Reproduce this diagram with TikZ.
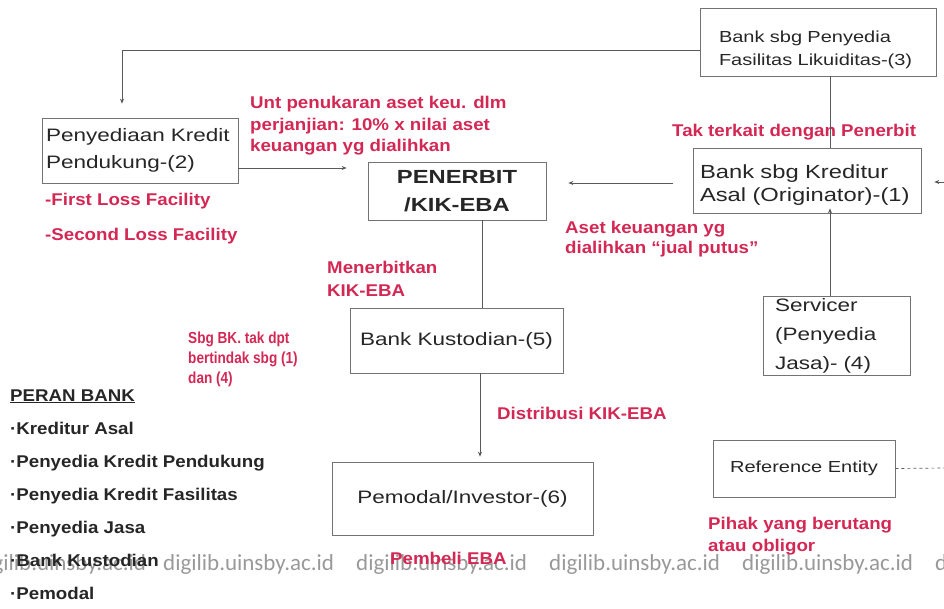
\documentclass[tikz,border=0pt]{standalone}
\usepackage{fontspec}
\setmainfont{Liberation Sans}
\newfontfamily\boxfont{Liberation Sans}[FakeStretch=1.25]
\newfontfamily\lblfont{Liberation Sans}[FakeStretch=1.1]
\newfontfamily\narrowfont{Liberation Sans}[FakeStretch=0.85]
\newfontfamily\wmfont{Carlito}
\usetikzlibrary{arrows.meta}
\definecolor{lblred}{RGB}{212,40,84}
\tikzset{
  entity/.style={draw=black!55, line width=0.7pt, inner sep=0pt, text=black!85},
  note/.style={text=lblred, align=left, inner sep=0pt, anchor=base west,
    font=\lblfont\bfseries\fontsize{17}{21.5}\selectfont},
  link/.style={draw=black!65, line width=0.7pt},
  tip/.style={-{Stealth[length=5pt,width=4pt]}},
  watermark/.style={text=black!40, inner sep=0pt, anchor=base west,
    font=\wmfont\fontsize{23}{23}\selectfont},
}
\begin{document}
\begin{tikzpicture}[x=1pt, y=-1pt]
        \useasboundingbox (0,0) rectangle (944,609);
        \clip (0,0) rectangle (944,609);

        % watermark row
        \foreach \wx [count=\wi] in {-25,163,356,549,742,935}
          \node[watermark] (wm\wi) at (\wx,570) {digilib.uinsby.ac.id};

        % boxes
        \node[entity, minimum width=236pt, minimum height=68pt, text width=198pt, align=left,
          font=\boxfont\fontsize{16}{23}\selectfont] (liq) at (818,42)
          {\rule{0pt}{28pt}Bank sbg Penyedia\\Fasilitas Likuiditas-(3)};
        \node[entity, minimum width=228pt, minimum height=65pt, text width=214pt, align=left,
          font=\boxfont\fontsize{19}{23}\selectfont] (kred) at (807,180.5)
          {\rule{0pt}{22pt}Bank sbg Kreditur\\Asal (Originator)-(1)};
        \node[entity, minimum width=196pt, minimum height=65pt, text width=188pt, align=left,
          font=\boxfont\fontsize{18}{27}\selectfont] (pend) at (140,150.5)
          {Penyediaan Kredit\\Pendukung-(2)};
        \node[entity, minimum width=178pt, minimum height=58pt, align=center,
          font=\boxfont\bfseries\fontsize{19}{28}\selectfont] (pen) at (457,191)
          {PENERBIT\\/KIK-EBA};
        \node[entity, minimum width=213pt, minimum height=65pt,
          font=\boxfont\fontsize{18}{22}\selectfont] (kust) at (456.5,340.5)
          {Bank Kustodian-(5)};
        \node[entity, minimum width=147pt, minimum height=79pt, text width=123pt, align=left,
          font=\boxfont\fontsize{18}{29}\selectfont] (serv) at (836.5,335.5)
          {Servicer\\(Penyedia\\Jasa)- (4)};
        \node[entity, minimum width=261pt, minimum height=73pt,
          font=\boxfont\fontsize{18}{22}\selectfont] (pemo) at (462.5,498.5)
          {Pemodal/Investor-(6)};
        \node[entity, minimum width=182pt, minimum height=57pt,
          font=\boxfont\fontsize{16}{20}\selectfont] (ref) at (804,468.5)
          {Reference Entity};

        % red notes (base = last line)
        \node[note] (unt) at (250,152) {Unt penukaran aset keu. dlm\\perjanjian: 10\% x nilai aset\\keuangan yg dialihkan};
        \node[note] (lossA) at (45,206) {-First Loss Facility};
        \node[note] (lossB) at (45,241) {-Second Loss Facility};
        \node[note] (tak) at (672,137) {Tak terkait dengan Penerbit};
        \node[note, font=\lblfont\bfseries\fontsize{17}{20}\selectfont] (aset) at (565,254)
          {Aset keuangan yg\\dialihkan “jual putus”};
        \node[note, font=\lblfont\bfseries\fontsize{17}{23}\selectfont] (mener) at (327,297)
          {Menerbitkan\\KIK-EBA};
        \node[note, font=\narrowfont\bfseries\fontsize{16}{20}\selectfont] (sbg) at (188,383)
          {Sbg BK. tak dpt\\bertindak sbg (1)\\dan (4)};
        \node[note] (distr) at (497,419) {Distribusi KIK-EBA};
        \node[note] (beli) at (390,564) {Pembeli EBA};
        \node[note, font=\lblfont\bfseries\fontsize{17}{22}\selectfont] (pihak) at (708,551)
          {Pihak yang berutang\\atau obligor};

        % list of roles
        \node[note, text=black!85, font=\lblfont\bfseries\fontsize{17}{33}\selectfont] (peran) at (10,599)
          {\underline{PERAN BANK}\\·Kreditur Asal\\·Penyedia Kredit Pendukung\\·Penyedia Kredit Fasilitas\\·Penyedia Jasa\\·Bank Kustodian\\·Pemodal};

        % connectors
        \coordinate (turn) at (122,50);
        \coordinate (dropR) at (830,0);
        \coordinate (dropM) at (482,0);
        \coordinate (dropL) at (480,0);
        \coordinate (flowA) at (0,183);
        \coordinate (flowB) at (0,168);
        \coordinate (edgeR) at (944,182);
        \coordinate (edgeRef) at (944,468);

        \draw[link, tip, shorten >=14pt] (liq.west |- turn) -- (turn) -- (turn |- pend.north);
        \draw[link] (liq.south -| dropR) -- (kred.north -| dropR);
        \draw[link, tip, shorten >=-5pt] (serv.north -| dropR) -- (kred.south -| dropR);
        \draw[link, tip, shorten <=20pt, shorten >=22pt] (kred.west |- flowA) -- (pen.east |- flowA);
        \draw[link, tip, shorten >=21pt] (pend.east |- flowB) -- (pen.west |- flowB);
        \draw[link] (pen.south -| dropM) -- (kust.north -| dropM);
        \draw[link, tip, shorten >=5pt] (kust.south -| dropL) -- (pemo.north -| dropL);
        \draw[link, tip, shorten >=13pt] (edgeR) -- (kred.east |- edgeR);
        \draw[link, dash pattern=on 3pt off 3pt] (ref.east) -- (edgeRef);
\end{tikzpicture}
\end{document}
